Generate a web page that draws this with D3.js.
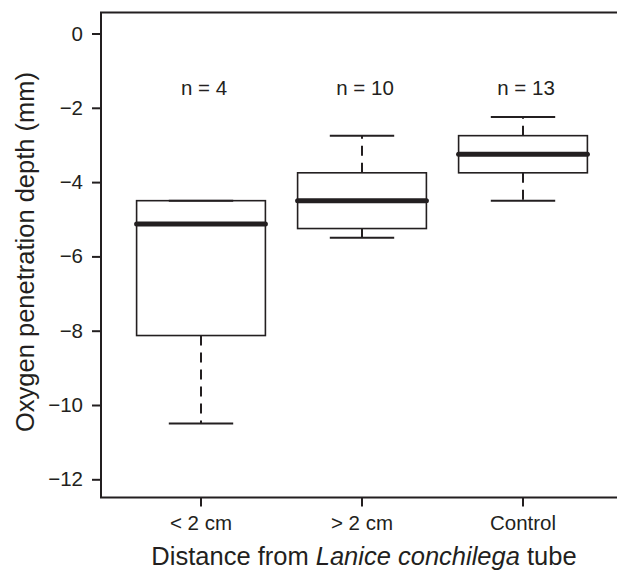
<!DOCTYPE html>
<html>
<head>
<meta charset="utf-8">
<script src="https://cdn.jsdelivr.net/npm/d3@7"></script>
<style>
  body { margin: 0; background: #fff; }
  text { font-family: 'Liberation Sans', Arial, sans-serif; fill: #231f20; }
</style>
</head>
<body>
<div id="chart-area"></div>
<script>
// groups and their box statistics (mm)
var groups = ['< 2 cm', '> 2 cm', 'Control']
var counts = [4, 10, 13]
var whiskerLow = [-10.5, -5.5, -4.5]
var q1 = [-8.13, -5.25, -3.75]
var medians = [-5.13, -4.5, -3.25]
var q3 = [-4.5, -3.75, -2.75]
var whiskerHigh = [-4.5, -2.75, -2.25]
var yTicks = [0, -2, -4, -6, -8, -10, -12]

var data = groups.map((g, i) => ({
  group: g, n: counts[i], lo: whiskerLow[i], q1: q1[i],
  med: medians[i], q3: q3[i], hi: whiskerHigh[i]
}))

var W = 617, H = 570
var ink = '#231f20'
var frame = { left: 101, top: 12.5, bottom: 497.5 }

var svg = d3.select('#chart-area')
  .append('svg')
    .attr('width', W)
    .attr('height', H)

var x = d3.scaleBand()
    .domain(groups)
    .range([120.5, 603.5])

var y = d3.scaleLinear()
    .domain([0, -12])
    .range([33.5, 479.3])

// y axis
var yAxis = svg.append('g')
  .attr('transform', 'translate(' + frame.left + ',0)')
  .call(d3.axisLeft(y).tickValues(yTicks).tickSize(9).tickPadding(9)
    .tickFormat(d => d < 0 ? '\u2212' + Math.abs(d) : d))
yAxis.select('.domain').remove()
yAxis.selectAll('line').attr('stroke', ink).attr('stroke-width', 2)
yAxis.selectAll('text').attr('font-size', '20.5px').attr('fill', ink)
  .attr('font-family', "'Liberation Sans', Arial, sans-serif")

// x axis
var xAxis = svg.append('g')
  .attr('transform', 'translate(0,' + frame.bottom + ')')
  .call(d3.axisBottom(x).tickSize(9).tickPadding(9))
xAxis.select('.domain').remove()
xAxis.selectAll('line').attr('stroke', ink).attr('stroke-width', 2)
xAxis.selectAll('text').attr('font-size', '20.5px').attr('fill', ink)
  .attr('font-family', "'Liberation Sans', Arial, sans-serif")

// frame: left, top, bottom (open on the right)
svg.append('path')
  .attr('d', 'M' + W + ',' + frame.top + 'H' + frame.left + 'V' + frame.bottom + 'H' + W)
  .attr('fill', 'none')
  .attr('stroke', ink)
  .attr('stroke-width', 2)

var bw = x.bandwidth() * 0.8
var cw = x.bandwidth() * 0.4

var boxes = svg.selectAll('.box')
  .data(data)
  .enter()
  .append('g')
    .attr('class', 'box')
    .attr('transform', d => 'translate(' + (x(d.group) + x.bandwidth() / 2) + ',0)')

// whiskers
boxes.append('line')
  .attr('y1', d => y(d.q1)).attr('y2', d => y(d.lo))
  .attr('stroke', ink).attr('stroke-width', 2).attr('stroke-dasharray', '10,7')
boxes.append('line')
  .attr('y1', d => y(d.q3)).attr('y2', d => y(d.hi))
  .attr('stroke', ink).attr('stroke-width', 2).attr('stroke-dasharray', '10,7')

// caps
boxes.append('line')
  .attr('x1', -cw / 2).attr('x2', cw / 2)
  .attr('y1', d => y(d.lo)).attr('y2', d => y(d.lo))
  .attr('stroke', ink).attr('stroke-width', 2)
boxes.append('line')
  .attr('x1', -cw / 2).attr('x2', cw / 2)
  .attr('y1', d => y(d.hi)).attr('y2', d => y(d.hi))
  .attr('stroke', ink).attr('stroke-width', 2)

// boxes
boxes.append('rect')
  .attr('x', -bw / 2)
  .attr('width', bw)
  .attr('y', d => y(d.q3))
  .attr('height', d => y(d.q1) - y(d.q3))
  .attr('fill', 'none')
  .attr('stroke', ink)
  .attr('stroke-width', 1.6)

// medians
boxes.append('line')
  .attr('x1', -bw / 2).attr('x2', bw / 2)
  .attr('y1', d => y(d.med)).attr('y2', d => y(d.med))
  .attr('stroke', ink).attr('stroke-width', 5).attr('stroke-linecap', 'round')

// n labels
boxes.append('text')
  .attr('x', 3)
  .attr('y', 95)
  .attr('text-anchor', 'middle')
  .attr('font-size', '20.5px')
  .text(d => 'n = ' + d.n)

// axis titles
svg.append('text')
  .attr('x', 364)
  .attr('y', 565)
  .attr('text-anchor', 'middle')
  .attr('font-size', '25.5px')
  .html('Distance from <tspan font-style="italic">Lanice conchilega</tspan> tube')

svg.append('text')
  .attr('transform', 'translate(34,252) rotate(-90)')
  .attr('text-anchor', 'middle')
  .attr('font-size', '25.5px')
  .text('Oxygen penetration depth (mm)')
</script>
</body>
</html>
